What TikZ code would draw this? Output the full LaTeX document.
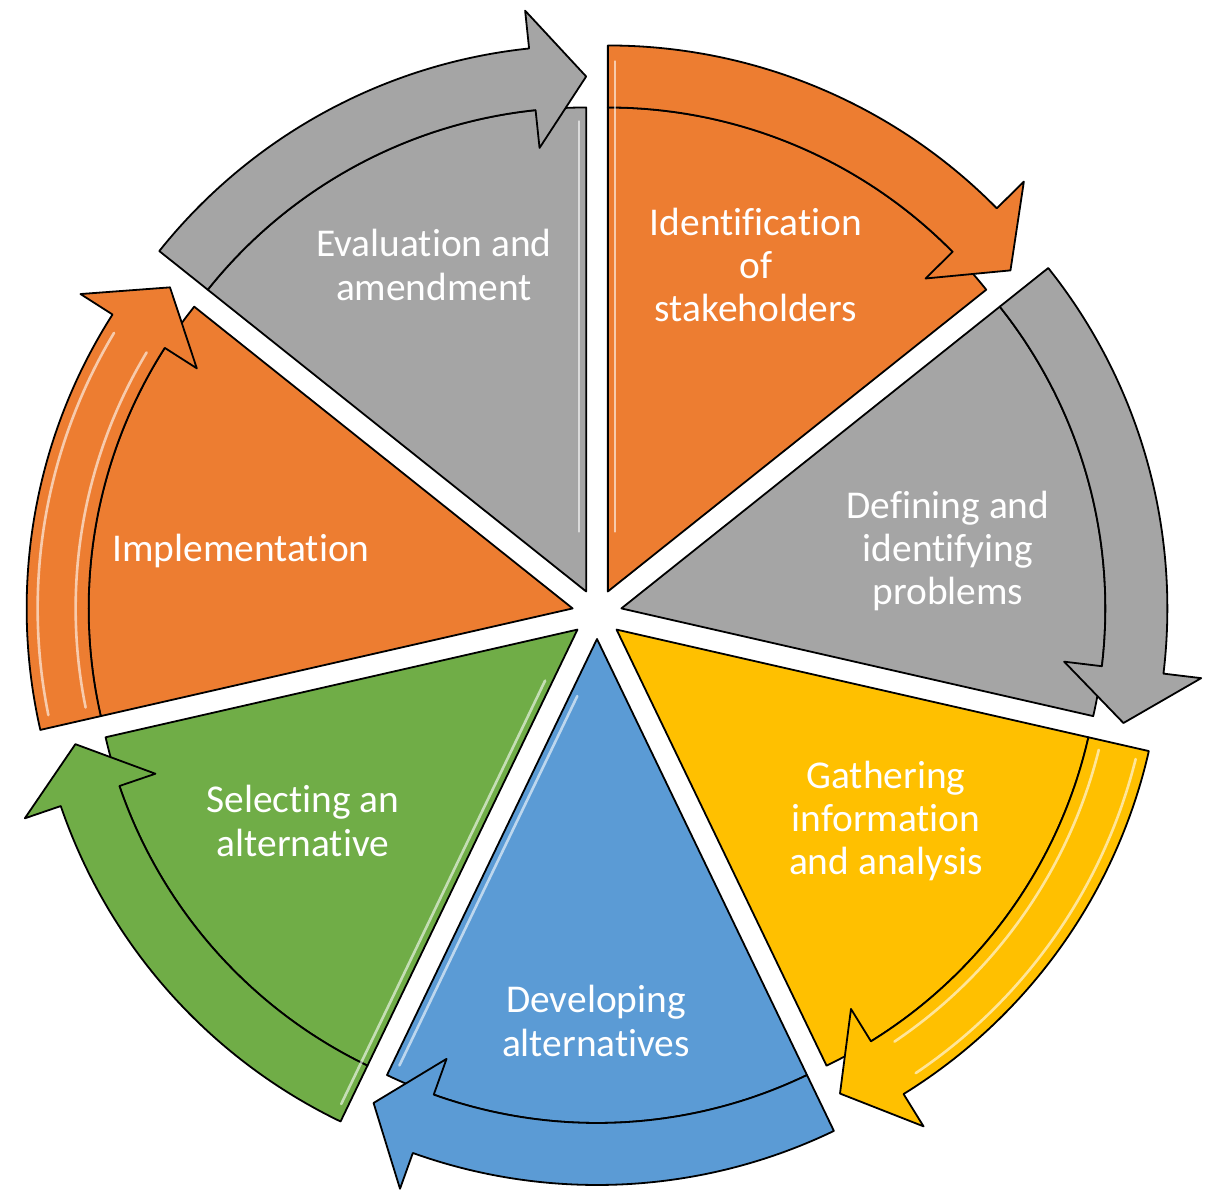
\documentclass[tikz,border=0pt]{standalone}
\usepackage{fontspec}
\setmainfont[Ligatures=NoCommon]{Carlito}
\definecolor{cOrange}{HTML}{ED7D31}
\definecolor{cGrey}{HTML}{A5A5A5}
\definecolor{cYellow}{HTML}{FFC000}
\definecolor{cBlue}{HTML}{5B9BD5}
\definecolor{cGreen}{HTML}{70AD47}
\begin{document}
\begin{tikzpicture}[x=0.5pt,y=0.5pt,
  segshape/.style={draw=black, line width=0.9pt, line join=round},
  seglabel/.style={text=white, align=center, font=\fontsize{19.7}{21.7}\selectfont, inner sep=0pt},
  gloss/.style={white, opacity=0.6, line width=1.3pt, line cap=round}]
\useasboundingbox (0,0) rectangle (1215,1189);
\foreach \k/\col in {0/cOrange,1/cGrey,2/cYellow,3/cBlue,4/cGreen,5/cOrange,6/cGrey} {
  \pgfmathsetmacro\as{90-51.428571*\k}
  \pgfmathsetmacro\ae{\as-51.428571}
  \pgfmathsetmacro\am{\as-25.714286}
  \pgfmathsetmacro\hb{\ae+6}
  \pgfmathsetmacro\ax{597+25*cos(\am)}
  \pgfmathsetmacro\ay{575+25*sin(\am)}
  \begin{scope}[shift={(\ax,\ay)}]
    \coordinate (A\k) at (0,0);
    \fill[\col, segshape] (0,0) -- (\as:484) arc[start angle=\as, end angle=\ae, radius=484] -- cycle;
    \fill[\col, segshape] (\as:484) -- (\as:546) arc[start angle=\as, end angle=\hb, radius=546]
      -- (\hb:584) -- (\ae:515) -- (\hb:446) -- (\hb:484)
      arc[start angle=\hb, end angle=\as, radius=484] -- cycle;
  \end{scope}
}
% glossy highlights along bands
\begin{scope}[shift={(A5)}]
  \draw[gloss] (191.5:497) arc[start angle=191.5, end angle=149, radius=497];
  \draw[gloss] (191.5:535) arc[start angle=191.5, end angle=149, radius=535];
\end{scope}
\begin{scope}[shift={(A2)}]
  \draw[gloss] (-14:497) arc[start angle=-14, end angle=-56, radius=497];
  \draw[gloss] (-14:535) arc[start angle=-14, end angle=-56, radius=535];
\end{scope}
% glossy highlights along edges
\begin{scope}[shift={(A0)}, rotate=90]
  \draw[gloss] (60,-7) -- (530,-7);
\end{scope}
\begin{scope}[shift={(A6)}, rotate=90]
  \draw[gloss] (60,7) -- (470,7);
\end{scope}
\begin{scope}[shift={(A4)}, rotate=-115.714]
  \draw[gloss] (60,-7) -- (530,-7);
\end{scope}
\begin{scope}[shift={(A3)}, rotate=-115.714]
  \draw[gloss] (60,7) -- (470,7);
\end{scope}
\node[seglabel] (identification) at (756,924) {Identification\\of\\stakeholders};
\node[seglabel] (defining) at (948,638) {Defining and\\identifying\\problems};
\node[seglabel] (gathering) at (886,368) {Gathering\\information\\and analysis};
\node[seglabel] (developing) at (596,168) {Developing\\alternatives};
\node[seglabel] (selecting) at (303,368) {Selecting an\\alternative};
\node[seglabel] (implementation) at (241,638) {Implementation};
\node[seglabel] (evaluation) at (434,924) {Evaluation and\\amendment};
\end{tikzpicture}
\end{document}
